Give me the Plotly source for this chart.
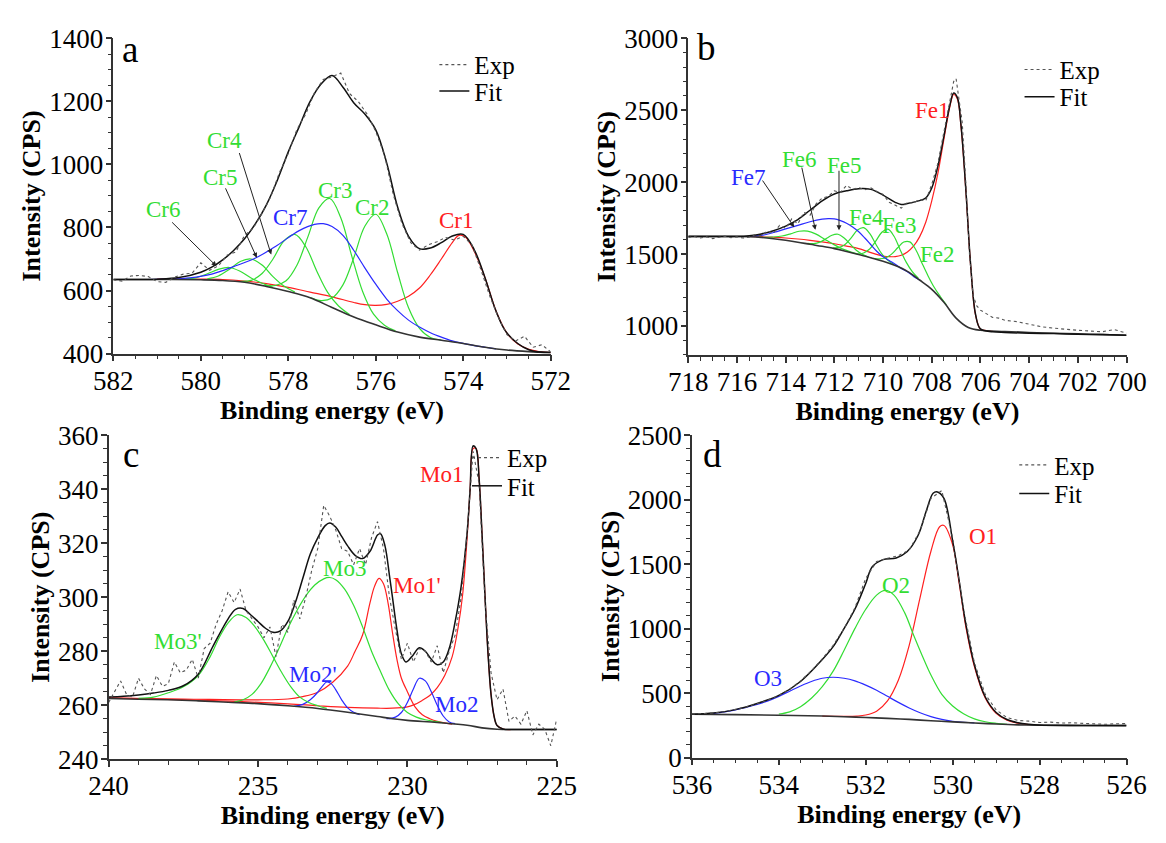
import plotly.graph_objects as go

FONT = "Liberation Serif, Times New Roman, DejaVu Serif, serif"
RED = "#ff2020"
GREEN = "#33dd33"
BLUE = "#2a2aff"
BLACK = "#111111"
EXPC = "#555555"

# ---------------- Panel a : Cr 2p ----------------
A_BG_X = [582, 581, 580, 579.5, 579, 578.5, 578, 577.5, 577, 576.5, 576, 575.5, 575, 574.5, 574, 573.5, 573, 572.5, 572]
A_BG_Y = [635, 635, 634, 632, 626, 613, 597, 577, 546, 516, 491, 468, 452, 442, 432, 420, 411, 406, 403]
A_FIT_X = [582, 581, 580.5, 580, 579.75, 579.5, 579.25, 579, 578.75, 578.5, 578.25, 578, 577.75, 577.5, 577.25, 577,
           576.75, 576.5, 576.25, 576, 575.75, 575.5, 575.25, 575, 574.75, 574.5, 574.25, 574, 573.75, 573.5, 573.25,
           573, 572.5, 572]
A_FIT_Y = [635, 636, 641, 658, 674, 697, 727, 764, 812, 872, 950, 1040, 1120, 1200, 1255, 1282, 1245, 1195, 1160, 1110,
           1005, 865, 772, 733, 735, 752, 773, 778, 730, 640, 535, 465, 412, 403]
A_EXP_X = [582.0, 581.8, 581.6, 581.4, 581.2, 581.0, 580.8, 580.6, 580.4, 580.2, 580.0, 579.8, 579.6, 579.4, 579.2,
           579.0, 578.8, 578.6, 578.4, 578.2, 578.0, 577.8, 577.6, 577.4, 577.2, 577.0, 576.8, 576.6, 576.4, 576.2,
           576.0, 575.8, 575.6, 575.4, 575.2, 575.0, 574.8, 574.6, 574.4, 574.2, 574.0, 573.8, 573.6, 573.4, 573.2,
           573.0, 572.8, 572.6, 572.4, 572.2, 572.0]
A_EXP_Y = [634, 630, 646, 648, 644, 628, 626, 642, 652, 655, 688, 664, 678, 712, 722, 775, 798, 845, 898, 975, 1035,
           1112, 1160, 1228, 1270, 1278, 1290, 1225, 1200, 1160, 1105, 1030, 905, 812, 752, 728, 745, 755, 768, 760,
           772, 745, 668, 585, 515, 460, 440, 455, 420, 428, 405]
A_CR1_X = [581, 580, 579.5, 579, 578.5, 578, 577.5, 577, 576.5, 576.25, 576, 575.75, 575.5, 575.25, 575, 574.75, 574.5,
           574.25, 574.1, 573.95, 573.75, 573.5, 573.25, 573, 572.75, 572.5, 572.25, 572]
A_CR1_Y = [636, 636, 635, 630, 622, 610, 595, 580, 562, 555, 553, 556, 566, 582, 608, 650, 700, 752, 775, 770, 725,
           640, 535, 465, 430, 413, 406, 403]
A_CR2_X = [577.5, 577.25, 577, 576.75, 576.5, 576.25, 576, 575.75, 575.5, 575.25, 575, 574.75, 574.5]
A_CR2_Y = [578, 568, 576, 618, 705, 804, 842, 780, 657, 545, 480, 451, 443]
A_CR3_X = [578.55, 578.3, 578.05, 577.8, 577.55, 577.3, 577.05, 576.8, 576.55, 576.3, 576.05, 575.8, 575.55]
A_CR3_Y = [617, 616, 631, 681, 771, 862, 892, 831, 710, 597, 525, 490, 472]
A_CR4_X = [579.1, 578.85, 578.6, 578.35, 578.1, 577.85, 577.6, 577.35, 577.1, 576.85, 576.6]
A_CR4_Y = [629, 632, 654, 700, 757, 778, 739, 662, 594, 551, 524]
A_CR5_X = [579.85, 579.6, 579.35, 579.1, 578.85, 578.6, 578.35, 578.1, 577.85]
A_CR5_Y = [637, 646, 667, 692, 700, 681, 644, 614, 595]
A_CR6_X = [580.35, 580.1, 579.85, 579.6, 579.35, 579.1, 578.85, 578.6, 578.35]
A_CR6_Y = [637, 641, 653, 667, 673, 661, 640, 623, 610]
A_CR7_X = [581.25, 580.75, 580.25, 579.75, 579.25, 578.75, 578.25, 577.75, 577.4, 577.2, 577, 576.75, 576.5, 576.25,
           576, 575.75, 575.5, 575.25, 575, 574.75, 574.5, 574.25, 574, 573.75, 573.5, 573.25]
A_CR7_Y = [635, 636, 640, 652, 676, 703, 744, 790, 810, 812, 803, 775, 727, 672, 620, 573, 536, 506, 484, 466, 452,
           440, 432, 425, 420, 415]
A_LABELS = [("Cr1", 574.16, 821, RED), ("Cr2", 576.07, 864, GREEN), ("Cr3", 576.93, 918, GREEN),
            ("Cr4", 579.45, 1077, GREEN), ("Cr5", 579.54, 959, GREEN), ("Cr6", 580.85, 857, GREEN),
            ("Cr7", 577.94, 832, BLUE)]
A_ARROWS = [(579.64, 677, 580.69, 821), (578.72, 704, 579.45, 929), (578.39, 714, 579.13, 1041)]

# ---------------- Panel b : Fe 2p ----------------
B_BG_X = [718, 716, 715.5, 715, 714.5, 714, 713.5, 713, 712.5, 712, 711.5, 711, 710.5, 710, 709.5, 709, 708.5, 708,
          707.5, 707, 706.5, 706, 705, 704, 703, 702, 701, 700]
B_BG_Y = [1623, 1623, 1621, 1616, 1607, 1596, 1583, 1568, 1554, 1538, 1518, 1497, 1474, 1450, 1420, 1380, 1320, 1255,
          1165, 1055, 990, 970, 962, 955, 950, 945, 940, 936]
B_FIT_X = [718, 716, 715.5, 715, 714.5, 714, 713.5, 713, 712.5, 712, 711.5, 711, 710.5, 710, 709.5, 709.25, 709, 708.5,
           708.25, 708, 707.75, 707.5, 707.25, 707.1, 706.95, 706.8, 706.6, 706.4, 706.2, 706, 705.5, 705, 704, 703,
           702, 701, 700]
B_FIT_Y = [1623, 1623, 1628, 1640, 1663, 1695, 1740, 1805, 1870, 1918, 1940, 1955, 1950, 1910, 1860, 1845, 1852, 1872,
           1890, 1960, 2110, 2320, 2540, 2620, 2590, 2400, 1950, 1420, 1080, 980, 960, 955, 950, 947, 943, 940, 936]
B_EXP_X = [718, 717.75, 717.5, 717.25, 717, 716.75, 716.5, 716.25, 716, 715.75, 715.5, 715.25, 715, 714.75, 714.5,
           714.25, 714, 713.75, 713.5, 713.25, 713, 712.75, 712.5, 712.25, 712, 711.75, 711.5, 711.25, 711, 710.75,
           710.5, 710.25, 710, 709.75, 709.5, 709.25, 709, 708.75, 708.5, 708.25, 708, 707.75, 707.5, 707.25, 707.1,
           707.0, 706.9, 706.75, 706.6, 706.45, 706.3, 706.15, 706, 705.75, 705.5, 705.25, 705, 704.5, 704, 703.5, 703,
           702.5, 702, 701.5, 701, 700.5, 700]
B_EXP_Y = [1615, 1622, 1612, 1620, 1608, 1618, 1625, 1614, 1620, 1612, 1618, 1635, 1628, 1660, 1645, 1700, 1680, 1745,
           1710, 1790, 1770, 1850, 1890, 1900, 1940, 1930, 1978, 1950, 1962, 1948, 1960, 1935, 1915, 1860, 1840, 1820,
           1860, 1855, 1880, 1870, 1985, 2130, 2350, 2560, 2700, 2720, 2600, 2420, 2000, 1500, 1210, 1140, 1110, 1085,
           1060, 1055, 1040, 1030, 1010, 995, 985, 975, 970, 965, 960, 975, 950]
B_FE1_X = [715.5, 715, 714.5, 714, 713.5, 713, 712.5, 712, 711.5, 711, 710.5, 710, 709.75, 709.5, 709.25, 709, 708.75,
           708.5, 708.25, 708, 707.75, 707.5, 707.25, 707.1, 706.95, 706.8, 706.6, 706.4, 706.2, 706, 705.75, 705.5]
B_FE1_Y = [1623, 1621, 1617, 1612, 1605, 1596, 1585, 1572, 1556, 1538, 1510, 1487, 1482, 1483, 1492, 1515, 1555, 1620,
           1720, 1870, 2060, 2300, 2530, 2610, 2580, 2390, 1945, 1415, 1075, 978, 968, 962]
B_FE2_X = [710.4, 710.15, 709.9, 709.65, 709.4, 709.15, 708.9, 708.65, 708.4, 708.15, 707.9, 707.65, 707.4]
B_FE2_Y = [1471, 1467, 1473, 1500, 1544, 1584, 1585, 1529, 1437, 1348, 1269, 1205, 1147]
B_FE3_X = [711.05, 710.8, 710.55, 710.3, 710.05, 709.8, 709.55, 709.3, 709.05, 708.8, 708.55]
B_FE3_Y = [1500, 1508, 1535, 1590, 1652, 1674, 1624, 1531, 1444, 1378, 1332]
B_FE4_X = [712.05, 711.8, 711.55, 711.3, 711.05, 710.8, 710.55, 710.3, 710.05, 709.8, 709.55]
B_FE4_Y = [1544, 1547, 1569, 1615, 1667, 1684, 1644, 1570, 1501, 1457, 1427]
B_FE5_X = [713.1, 712.85, 712.6, 712.35, 712.1, 711.85, 711.6, 711.35, 711.1, 710.85, 710.6]
B_FE5_Y = [1574, 1573, 1583, 1606, 1631, 1638, 1612, 1569, 1527, 1499, 1480]
B_FE6_X = [715.2, 714.85, 714.5, 714.15, 713.8, 713.45, 713.1, 712.75, 712.4, 712.05, 711.7, 711.35, 711.0]
B_FE6_Y = [1619, 1616, 1619, 1626, 1641, 1659, 1660, 1639, 1604, 1569, 1538, 1516, 1498]
B_FE7_X = [715.5, 715, 714.5, 714, 713.5, 713, 712.5, 712.25, 712, 711.75, 711.5, 711.25, 711, 710.75, 710.5, 710.25,
           710, 709.75, 709.5, 709.25, 709, 708.75, 708.5]
B_FE7_Y = [1623, 1630, 1650, 1675, 1700, 1725, 1743, 1747, 1745, 1733, 1715, 1688, 1655, 1612, 1565, 1518, 1482, 1455,
           1430, 1400, 1378, 1345, 1320]
B_LABELS = [("Fe1", 707.98, 2497, RED), ("Fe2", 707.76, 1497, GREEN), ("Fe3", 709.32, 1698, GREEN),
            ("Fe4", 710.66, 1754, GREEN), ("Fe5", 711.59, 2116, GREEN), ("Fe6", 713.42, 2161, GREEN),
            ("Fe7", 715.51, 2034, BLUE)]
B_ARROWS = [(713.65, 1687, 714.99, 2022), (712.78, 1669, 713.35, 2112), (711.81, 1665, 711.81, 2090)]

# ---------------- Panel c : Mo 3d ----------------
C_BG_X = [240, 239, 238, 237, 236, 235, 234, 233, 232, 231, 230.5, 230, 229, 228, 227.5, 227, 226, 225]
C_BG_Y = [262.5, 262.2, 262.0, 261.6, 261.1, 260.6, 259.8, 258.8, 257.4, 255.8, 255.0, 254.4, 253.6, 252.6, 251.6,
          251.1, 251.0, 251.0]
C_FIT_X = [240, 239.5, 239, 238.5, 238, 237.5, 237, 236.5, 236, 235.75, 235.5, 235.25, 235, 234.75, 234.5, 234.25, 234,
           233.75, 233.5, 233.25, 233, 232.75, 232.6, 232.4, 232.2, 232, 231.75, 231.5, 231.25, 231.0, 230.9, 230.75,
           230.6, 230.5, 230.35, 230.2, 230.05, 229.85, 229.6, 229.4, 229.2, 229.0, 228.8, 228.6, 228.4, 228.2, 228.0,
           227.9, 227.8, 227.7, 227.6, 227.5, 227.4, 227.3, 227.2, 227.1, 227.0, 226.8, 226.5, 226, 225]
C_FIT_Y = [263.0, 263.3, 263.8, 264.5, 265.5, 267.2, 271.5, 282, 292, 295.5, 295.8, 293.5, 291, 288.5, 287, 287.5, 291,
           298, 307, 316, 322, 326.5, 327.5, 326, 322.5, 319, 315.5, 314.3, 317, 323, 323.5, 319, 308, 300, 288, 279,
           276, 278, 281.3, 280, 277, 275, 276, 281, 291, 304, 324, 340, 356, 355, 344, 323, 300, 279, 264, 256, 252.5,
           251.2, 251, 251, 251]
C_EXP_X = [240.0, 239.8, 239.6, 239.4, 239.2, 239.0, 238.8, 238.6, 238.4, 238.2, 238.0, 237.8, 237.6, 237.4, 237.2,
           237.0, 236.8, 236.6, 236.4, 236.2, 236.0, 235.8, 235.6, 235.4, 235.2, 235.0, 234.8, 234.6, 234.4, 234.2,
           234.0, 233.8, 233.6, 233.4, 233.2, 233.0, 232.8, 232.6, 232.4, 232.2, 232.0, 231.8, 231.6, 231.4, 231.2,
           231.0, 230.8, 230.6, 230.4, 230.2, 230.0, 229.8, 229.6, 229.4, 229.2, 229.0, 228.8, 228.6, 228.4, 228.2,
           228.0, 227.8, 227.6, 227.4, 227.2, 227.0, 226.8, 226.6, 226.4, 226.2, 226.0, 225.8, 225.6, 225.4, 225.2,
           225.0]
C_EXP_Y = [261, 265, 269, 264, 263, 270, 266, 264, 271, 267, 268, 276, 272, 273, 277, 270, 281, 283, 290, 295, 302, 298,
           303, 295, 292, 289, 285, 289, 278, 290, 287, 299, 292, 300, 310, 318, 334, 330, 325, 318, 317, 312, 318, 312,
           322, 328, 318, 300, 288, 277, 283, 276, 281, 280, 276, 282, 272, 280, 286, 300, 324, 354, 342, 298, 272, 262,
           266, 254, 256, 253, 258, 249, 253, 251, 245, 255]
C_MO1_X = [240, 236, 234, 233, 232, 231, 230.5, 230, 229.75, 229.5, 229.25, 229, 228.75, 228.5, 228.3, 228.15, 228,
           227.9, 227.8, 227.7, 227.6, 227.5, 227.4, 227.3, 227.2, 227.1, 227, 226.8, 226.5]
C_MO1_Y = [262.7, 261.5, 260.5, 259.8, 259.2, 258.9, 258.9, 259.4, 260.3, 261.8, 263.6, 266.5, 271, 278, 289, 301, 322,
           340, 355, 355, 344, 323, 300, 279, 264, 256, 252.5, 251.2, 251]
C_MO1P_X = [240, 237.5, 235, 234, 233.5, 233, 232.5, 232, 231.75, 231.5, 231.25, 231.1, 230.95, 230.8, 230.65, 230.5,
            230.35, 230.2, 230, 229.75, 229.5, 229.25, 229, 228.5]
C_MO1P_Y = [262.6, 262.3, 262.0, 262.3, 263.2, 264.8, 268.5, 274.5, 280, 286, 298, 304, 307, 305, 298, 287, 277, 270,
            265, 259.5, 256.5, 255, 254, 253]
C_MO2_X = [230.7, 230.4, 230.2, 230.0, 229.8, 229.6, 229.4, 229.2, 229.0, 228.8, 228.6, 228.4]
C_MO2_Y = [255.0, 255.6, 257.3, 261, 266, 270, 269, 265, 260, 256, 253.8, 253.2]
C_MO2P_X = [233.8, 233.5, 233.25, 233, 232.85, 232.7, 232.55, 232.4, 232.2, 232, 231.8, 231.6]
C_MO2P_Y = [259.6, 260.3, 262, 264.8, 267, 268.6, 268, 265.8, 262, 259, 257.4, 256.5]
C_MO3_X = [235.8, 235.5, 235.2, 234.9, 234.6, 234.3, 234, 233.7, 233.4, 233.1, 232.8, 232.6, 232.4, 232.1, 231.8, 231.5,
           231.2, 230.9, 230.6, 230.3, 230, 229.7, 229.4, 229.1, 228.8]
C_MO3_Y = [261.2, 262, 264, 268, 274, 281, 288.5, 295, 300.5, 304.5, 306.8, 307.3, 306.5, 303, 297, 289, 280, 272.5,
           265.5, 260.5, 257.3, 255.6, 254.6, 254, 253.5]
C_MO3P_X = [239, 238.5, 238, 237.5, 237, 236.6, 236.3, 236, 235.7, 235.4, 235.1, 234.8, 234.5, 234.2, 233.9, 233.6,
            233.3, 233, 232.7]
C_MO3P_Y = [262.5, 263, 264.6, 266.8, 271, 278, 285, 290.5, 293.5, 292.5, 289, 284, 278, 272, 266.8, 263, 261, 259.8,
            258.8]
C_LABELS = [("Mo1", 228.85, 345.4, RED), ("Mo1'", 229.69, 304.3, RED), ("Mo3", 232.09, 310.6, GREEN),
            ("Mo3'", 237.68, 283.5, GREEN), ("Mo2'", 233.17, 271.5, BLUE), ("Mo2", 228.37, 260.2, BLUE)]

# ---------------- Panel d : O 1s ----------------
D_BG_X = [536, 535, 534, 533, 532.5, 532, 531.5, 531, 530.5, 530, 529.5, 529, 528.5, 528, 527, 526]
D_BG_Y = [336, 333, 328, 322, 317, 311, 304, 296, 286, 277, 268, 260, 254, 251, 249, 248]
D_FIT_X = [536, 535.5, 535, 534.5, 534, 533.5, 533, 532.75, 532.5, 532.25, 532, 531.85, 531.6, 531.3, 531.05, 530.8,
           530.6, 530.45, 530.35, 530.2, 530.0, 529.85, 529.7, 529.5, 529.25, 529, 528.75, 528.5, 528.25, 528, 527, 526]
D_FIT_Y = [336, 345, 372, 420, 482, 590, 760, 860, 1000, 1150, 1350, 1480, 1535, 1548, 1596, 1720, 1920, 2050, 2060,
           2010, 1680, 1370, 1040, 720, 470, 350, 295, 270, 258, 252, 249, 248]
D_EXP_X = [536, 535.75, 535.5, 535.25, 535, 534.75, 534.5, 534.25, 534, 533.75, 533.5, 533.25, 533, 532.75, 532.5,
           532.25, 532, 531.75, 531.5, 531.25, 531, 530.75, 530.5, 530.25, 530, 529.75, 529.5, 529.25, 529, 528.75,
           528.5, 528.25, 528, 527.75, 527.5, 527.25, 527, 526.75, 526.5, 526.25, 526]
D_EXP_Y = [338, 340, 346, 356, 372, 392, 418, 445, 482, 530, 595, 672, 765, 870, 1000, 1160, 1390, 1520, 1545, 1565,
           1610, 1760, 2010, 2070, 1700, 1150, 735, 490, 370, 310, 288, 283, 272, 275, 268, 270, 265, 262, 258, 262, 264]
D_O1_X = [533, 532.5, 532.2, 532, 531.75, 531.5, 531.25, 531, 530.75, 530.5, 530.3, 530.2, 530.0, 529.85, 529.7, 529.5,
          529.25, 529, 528.75, 528.5, 528.25]
D_O1_Y = [322, 320, 322, 330, 360, 440, 600, 870, 1240, 1600, 1790, 1800, 1650, 1350, 1020, 705, 462, 343, 290, 267,
          256]
D_O2_X = [534, 533.75, 533.5, 533.25, 533, 532.75, 532.5, 532.25, 532, 531.75, 531.55, 531.35, 531.1, 530.9, 530.7,
          530.5, 530.25, 530, 529.75, 529.5, 529.25, 529, 528.75]
D_O2_Y = [338, 355, 395, 460, 550, 670, 830, 1000, 1150, 1260, 1296, 1260, 1120, 950, 790, 640, 490, 400, 340, 300, 278,
          266, 258]
D_O3_X = [535.5, 535.25, 535, 534.75, 534.5, 534.25, 534, 533.75, 533.5, 533.25, 533, 532.75, 532.5, 532.25, 532,
          531.75, 531.5, 531.25, 531, 530.75, 530.5, 530.25, 530, 529.75, 529.5]
D_O3_Y = [343, 355, 370, 390, 412, 440, 475, 515, 555, 590, 615, 623, 615, 595, 562, 522, 475, 428, 385, 348, 318, 296,
          282, 274, 269]
D_LABELS = [("O1", 529.3, 1715, RED), ("O2", 531.3, 1334, GREEN), ("O3", 534.25, 611, BLUE)]

fig = go.Figure()


def curve(x, y, color, xa, ya, width=1.2, dash=None, name=None, legend=None, shape="spline"):
    fig.add_trace(go.Scatter(
        x=x, y=y, mode="lines", xaxis=xa, yaxis=ya,
        line=dict(color=color, width=width, dash=dash, shape=shape, smoothing=1.0 if shape == "spline" else None),
        showlegend=name is not None, name=name or "", legend=legend, hoverinfo="skip"))


panels = [
    ("x", "y", "legend", "legend2", A_BG_X, A_BG_Y, A_FIT_X, A_FIT_Y, A_EXP_X, A_EXP_Y,
     [(A_CR1_X, A_CR1_Y, RED), (A_CR2_X, A_CR2_Y, GREEN), (A_CR3_X, A_CR3_Y, GREEN), (A_CR4_X, A_CR4_Y, GREEN),
      (A_CR5_X, A_CR5_Y, GREEN), (A_CR6_X, A_CR6_Y, GREEN), (A_CR7_X, A_CR7_Y, BLUE)]),
    ("x2", "y2", "legend3", "legend4", B_BG_X, B_BG_Y, B_FIT_X, B_FIT_Y, B_EXP_X, B_EXP_Y,
     [(B_FE1_X, B_FE1_Y, RED), (B_FE2_X, B_FE2_Y, GREEN), (B_FE3_X, B_FE3_Y, GREEN), (B_FE4_X, B_FE4_Y, GREEN),
      (B_FE5_X, B_FE5_Y, GREEN), (B_FE6_X, B_FE6_Y, GREEN), (B_FE7_X, B_FE7_Y, BLUE)]),
    ("x3", "y3", "legend5", "legend6", C_BG_X, C_BG_Y, C_FIT_X, C_FIT_Y, C_EXP_X, C_EXP_Y,
     [(C_MO1_X, C_MO1_Y, RED), (C_MO1P_X, C_MO1P_Y, RED), (C_MO2_X, C_MO2_Y, BLUE), (C_MO2P_X, C_MO2P_Y, BLUE),
      (C_MO3_X, C_MO3_Y, GREEN), (C_MO3P_X, C_MO3P_Y, GREEN)]),
    ("x4", "y4", "legend7", "legend8", D_BG_X, D_BG_Y, D_FIT_X, D_FIT_Y, D_EXP_X, D_EXP_Y,
     [(D_O1_X, D_O1_Y, RED), (D_O2_X, D_O2_Y, GREEN), (D_O3_X, D_O3_Y, BLUE)]),
]

for xa, ya, lg_exp, lg_fit, bgx, bgy, fx, fy, ex, ey, comps in panels:
    for cx, cy, col in comps:
        curve(cx, cy, col, xa, ya, width=1.2)
    curve(bgx, bgy, "#333333", xa, ya, width=1.6)
    curve(fx, fy, BLACK, xa, ya, width=1.5, name="Fit", legend=lg_fit)
    curve(ex, ey, EXPC, xa, ya, width=1.1, dash="dot", name="Exp", legend=lg_exp, shape="linear")


def axis(domain, rng, dtick, mdtick, anchor, title, is_x):
    return dict(
        domain=domain, range=rng, anchor=anchor, dtick=dtick, tick0=0,
        showline=True, linecolor="#333333", linewidth=1.5, mirror=False,
        ticks="outside", ticklen=6, tickwidth=1.5, tickcolor="#333333",
        tickfont=dict(family=FONT, size=27, color="black"),
        ticklabelstandoff=-4 if is_x else -3,
        minor=dict(ticks="outside", dtick=mdtick, ticklen=4, tickwidth=1, tickcolor="#333333", showgrid=False),
        showgrid=False, zeroline=False,
        title=dict(text="<b>" + title + "</b>", font=dict(family=FONT, size=26, color="black"),
                   standoff=3 if is_x else 1),
    )


XT = "Binding energy (eV)"
YT = "Intensity (CPS)"
fig.update_layout(
    width=1166, height=843, margin=dict(l=0, r=0, t=0, b=0),
    paper_bgcolor="white", plot_bgcolor="white",
    font=dict(family=FONT, size=24, color="black"),
    xaxis=axis([0.0829, 0.4713], [582, 572], 2, 0.5, "y", XT, True),
    yaxis=axis([0.5836, 0.9712], [400, 1400], 200, 50, "x", YT, False),
    xaxis2=axis([0.5935, 0.9827], [718, 700], 2, 0.5, "y2", XT, True),
    yaxis2=axis([0.5821, 0.9712], [800, 3000], 500, 100, "x2", YT, False),
    xaxis3=axis([0.0787, 0.4767], [240, 225], 5, 1, "y3", XT, True),
    yaxis3=axis([0.0846, 0.4832], [240, 360], 20, 5, "x3", YT, False),
    xaxis4=axis([0.5967, 0.9827], [536, 526], 2, 0.5, "y4", XT, True),
    yaxis4=axis([0.0866, 0.4832], [0, 2500], 500, 100, "x4", YT, False),
)

leg_common = dict(xanchor="left", yanchor="middle", bgcolor="rgba(0,0,0,0)", itemwidth=30,
                  font=dict(family=FONT, size=25, color="black"))
fig.update_layout(
    legend=dict(x=0.368, y=0.9386, **leg_common),
    legend2=dict(x=0.368, y=0.9061, **leg_common),
    legend3=dict(x=0.8877, y=0.9327, **leg_common),
    legend4=dict(x=0.8877, y=0.8992, **leg_common),
    legend5=dict(x=0.397, y=0.4553, **leg_common),
    legend6=dict(x=0.397, y=0.4206, **leg_common),
    legend7=dict(x=0.883, y=0.4463, **leg_common),
    legend8=dict(x=0.883, y=0.4110, **leg_common),
)

annotations = []
for (labels, xa, ya) in [(A_LABELS, "x", "y"), (B_LABELS, "x2", "y2"), (C_LABELS, "x3", "y3"), (D_LABELS, "x4", "y4")]:
    for txt, lx, ly, col in labels:
        annotations.append(dict(text=txt, x=lx, y=ly, xref=xa, yref=ya, showarrow=False,
                                font=dict(family=FONT, size=23, color=col)))
for (arrows, xa, ya) in [(A_ARROWS, "x", "y"), (B_ARROWS, "x2", "y2")]:
    for hx, hy, tx, ty in arrows:
        annotations.append(dict(text="", x=hx, y=hy, ax=tx, ay=ty, xref=xa, yref=ya, axref=xa, ayref=ya,
                                showarrow=True, arrowhead=2, arrowsize=1, arrowwidth=1, arrowcolor="#222222"))
for letter, xa, ya, lx, ly in [("a", "x", "y", 0.016, 0.965), ("b", "x2", "y2", 0.015, 0.97),
                               ("c", "x3", "y3", 0.028, 0.94), ("d", "x4", "y4", 0.02, 0.94)]:
    annotations.append(dict(text=letter, x=lx, y=ly, xref=xa + " domain", yref=ya + " domain", xanchor="left",
                            yanchor="middle", showarrow=False, font=dict(family=FONT, size=37, color="black")))
fig.update_layout(annotations=annotations)

fig.write_html("out.html")
